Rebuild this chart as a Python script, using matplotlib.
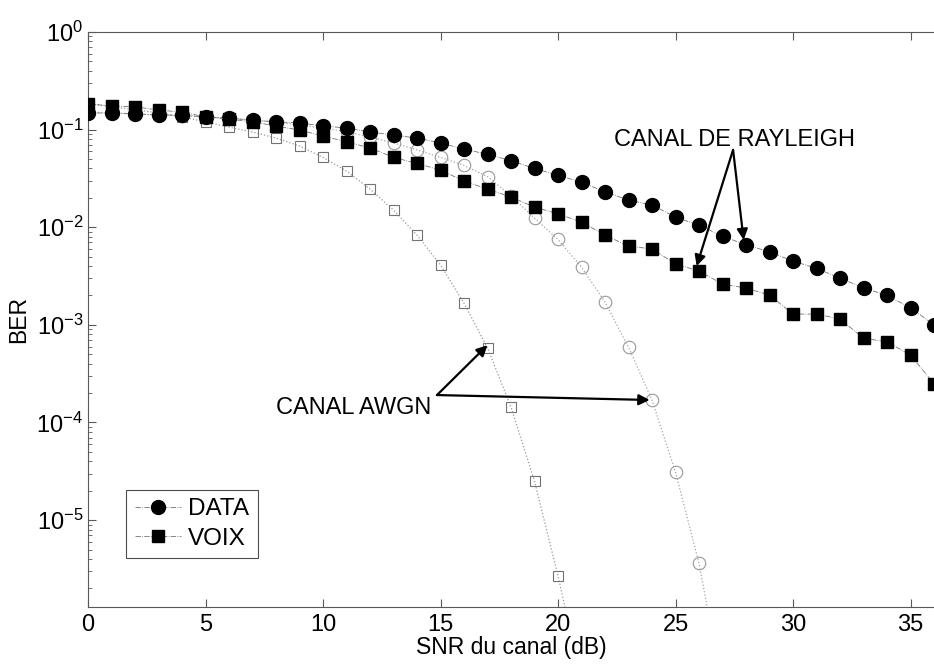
import numpy as np
import matplotlib.pyplot as plt

#### Fonts (Helvetica-like, also for the 10^x tick labels) ####
plt.rcParams['font.family'] = 'Liberation Sans'
plt.rcParams['mathtext.fontset'] = 'custom'
plt.rcParams['mathtext.rm'] = 'Liberation Sans'
plt.rcParams['mathtext.it'] = 'Liberation Sans:italic'
plt.rcParams['mathtext.default'] = 'regular'
plt.rcParams['axes.unicode_minus'] = False

#### SNR axis (dB) ####
snr = np.arange(0, 37)                 # Rayleigh runs, 0..36 dB
snr_awgn_voix = np.arange(0, 22)       # AWGN voice run, 0..21 dB
snr_awgn_data = np.arange(0, 28)       # AWGN data run, 0..27 dB

#### BER, Rayleigh channel ####
ber_data_rayleigh = [0.148, 0.148, 0.145, 0.141, 0.141, 0.135, 0.131, 0.125, 0.120,
                     0.117, 0.109, 0.104, 0.0945, 0.088, 0.082, 0.073, 0.063, 0.056,
                     0.048, 0.040, 0.034, 0.029, 0.023, 0.019, 0.0169, 0.0127, 0.0105,
                     0.0081, 0.0066, 0.0056, 0.0045, 0.0038, 0.0030, 0.0024, 0.0020,
                     0.0015, 0.0010]
ber_voix_rayleigh = [0.183, 0.175, 0.171, 0.159, 0.151, 0.135, 0.128, 0.120, 0.109,
                     0.099, 0.086, 0.075, 0.065, 0.052, 0.045, 0.0386, 0.0297, 0.0246,
                     0.0204, 0.0161, 0.0137, 0.0113, 0.0083, 0.0064, 0.0060, 0.0042,
                     0.00356, 0.00262, 0.00238, 0.00202, 0.00129, 0.00129, 0.00115,
                     7.3e-4, 6.7e-4, 4.9e-4, 2.5e-4]

#### BER, AWGN channel ####
ber_voix_awgn = [0.185, 0.172, 0.160, 0.148, 0.135, 0.120, 0.106, 0.0945, 0.082,
                 0.068, 0.052, 0.0377, 0.0246, 0.0150, 0.0083, 0.0041, 0.00167,
                 5.8e-4, 1.44e-4, 2.5e-5, 2.7e-6, 2.2e-7]
ber_data_awgn = [0.152, 0.148, 0.145, 0.141, 0.138, 0.135, 0.131, 0.125, 0.120,
                 0.111, 0.104, 0.095, 0.084, 0.073, 0.062, 0.052, 0.043, 0.033,
                 0.021, 0.0124, 0.0075, 0.0039, 0.00171, 5.9e-4, 1.7e-4, 3.1e-5,
                 3.6e-6, 1.9e-7]

labels = ["DATA", "VOIX"]


#### Figure ####
fig = plt.figure(figsize=(9.34, 6.65), dpi=100)
ax = fig.add_axes([88/934, 58/665, 846/934, 575/665])

# AWGN curves first, so the filled markers sit on top
ax.plot(snr_awgn_data, ber_data_awgn, linestyle=':', color='0.65', lw=0.9,
        marker='o', ms=9, mfc='none', mec='0.6', mew=0.8, zorder=1)
ax.plot(snr_awgn_voix, ber_voix_awgn, linestyle=':', color='0.6', lw=0.9,
        marker='s', ms=7.5, mfc='none', mec='0.45', mew=0.8, zorder=1)

# Rayleigh curves
ax.plot(snr, ber_data_rayleigh, linestyle='-.', color='0.45', lw=0.6,
        marker='o', ms=10, mfc='k', mec='k', label=labels[0], zorder=3)
ax.plot(snr, ber_voix_rayleigh, linestyle='-.', color='0.45', lw=0.6,
        marker='s', ms=8, mfc='k', mec='k', label=labels[1], zorder=3)

#### Axes ####
ax.set_yscale('log')
ax.set_xlim(0, 36)
ax.set_ylim(10**-5.89, 1)
ax.set_xticks([0, 5, 10, 15, 20, 25, 30, 35])
ax.tick_params(axis='both', which='both', direction='in', top=True, right=False,
               labelsize=17, color='0.35')
ax.tick_params(which='major', length=6)
ax.tick_params(which='minor', length=3)
ax.tick_params(axis='x', pad=5)
for side in ['left', 'bottom', 'top']:
    ax.spines[side].set_color('0.35')
    ax.spines[side].set_linewidth(0.8)
ax.spines['right'].set_visible(False)

ax.set_xlabel("SNR du canal (dB)", fontsize=16.5, labelpad=0)
ax.set_ylabel("BER", fontsize=16.5, labelpad=0)
ax.yaxis.set_label_coords(-0.068, 0.5)

#### Legend ####
leg = ax.legend(loc='lower left', bbox_to_anchor=(0.045, 0.085), fontsize=17.5,
                fancybox=False, framealpha=1, edgecolor='0.3', handlelength=1.9,
                handletextpad=0.3, borderpad=0.35, labelspacing=0.3, borderaxespad=0)
leg.get_frame().set_linewidth(0.8)

#### Annotations ####
arrow = dict(arrowstyle='-|>', color='k', lw=1.6, mutation_scale=16,
             shrinkA=0, shrinkB=0)

ax.text(27.5, 0.078, "CANAL DE RAYLEIGH", fontsize=17, ha='center', va='center')
ax.annotate('', xy=(25.9, 0.0040), xytext=(27.45, 0.062), arrowprops=arrow)
ax.annotate('', xy=(27.9, 0.0074), xytext=(27.45, 0.062), arrowprops=arrow)

ax.text(8.0, 1.41e-4, "CANAL AWGN", fontsize=17, ha='left', va='center')
ax.annotate('', xy=(17.0, 6.2e-4), xytext=(14.85, 1.91e-4), arrowprops=arrow)
ax.annotate('', xy=(23.9, 1.70e-4), xytext=(14.85, 1.91e-4), arrowprops=arrow)

plt.savefig("out.png", dpi=100)
